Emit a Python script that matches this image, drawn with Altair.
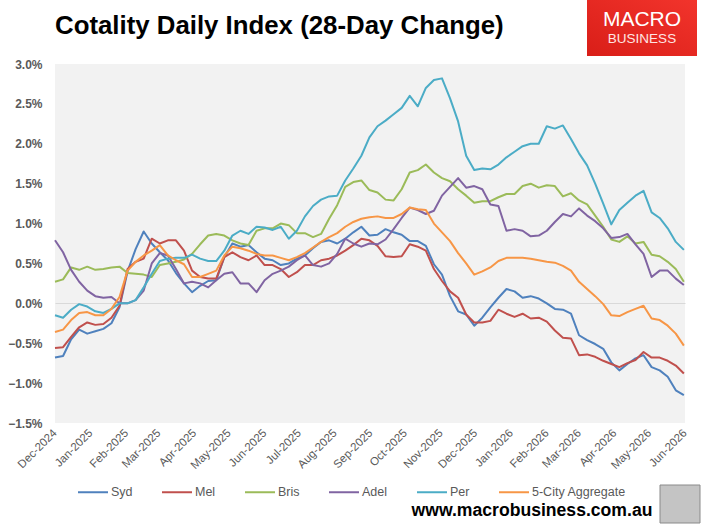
import altair as alt
import pandas as pd

# ---------------- data (28-day change, %), weekly from 1 Dec 2024 ----------------
dates = pd.date_range("2024-12-01", periods=79, freq="7D")

syd = [-0.68, -0.66, -0.45, -0.33, -0.38, -0.35, -0.32, -0.25, -0.05, 0.40,
       0.68, 0.90, 0.75, 0.64, 0.54, 0.38, 0.25, 0.14, 0.22, 0.28,
       0.29, 0.58, 0.75, 0.71, 0.73, 0.64, 0.56, 0.54, 0.48, 0.50,
       0.56, 0.60, 0.69, 0.77, 0.79, 0.75, 0.81, 0.89, 0.96, 0.85,
       0.86, 0.93, 0.89, 0.86, 0.78, 0.78, 0.72, 0.49, 0.36, 0.09,
       -0.10, -0.14, -0.28, -0.18, -0.05, 0.07, 0.18, 0.15, 0.07, 0.09,
       0.06, 0.00, -0.07, -0.08, -0.13, -0.40, -0.46, -0.51, -0.57, -0.74,
       -0.84, -0.76, -0.69, -0.65, -0.80, -0.84, -0.92, -1.09, -1.15]

mel = [-0.56, -0.55, -0.42, -0.30, -0.24, -0.27, -0.26, -0.18, -0.03, 0.43,
       0.52, 0.56, 0.81, 0.75, 0.79, 0.79, 0.66, 0.41, 0.33, 0.31,
       0.31, 0.58, 0.64, 0.58, 0.54, 0.60, 0.48, 0.48, 0.43, 0.33,
       0.39, 0.48, 0.48, 0.54, 0.56, 0.60, 0.66, 0.73, 0.81, 0.79,
       0.72, 0.59, 0.58, 0.59, 0.74, 0.71, 0.66, 0.43, 0.28, 0.15,
       0.07, -0.14, -0.24, -0.24, -0.22, -0.08, -0.13, -0.17, -0.13, -0.19,
       -0.18, -0.23, -0.34, -0.43, -0.44, -0.65, -0.64, -0.67, -0.72, -0.76,
       -0.80, -0.75, -0.71, -0.61, -0.68, -0.68, -0.72, -0.78, -0.88]

bris = [0.27, 0.30, 0.45, 0.42, 0.46, 0.42, 0.43, 0.45, 0.46, 0.38,
        0.37, 0.36, 0.33, 0.48, 0.50, 0.52, 0.55, 0.62, 0.74, 0.85,
        0.87, 0.85, 0.79, 0.75, 0.73, 0.91, 0.94, 0.94, 1.00, 0.98,
        0.88, 0.88, 0.83, 0.87, 1.06, 1.23, 1.46, 1.52, 1.54, 1.42,
        1.39, 1.30, 1.29, 1.43, 1.64, 1.67, 1.74, 1.64, 1.57, 1.53,
        1.43, 1.35, 1.26, 1.28, 1.28, 1.33, 1.37, 1.37, 1.47, 1.50,
        1.45, 1.48, 1.47, 1.34, 1.38, 1.29, 1.24, 1.10, 0.96, 0.80,
        0.77, 0.84, 0.75, 0.77, 0.61, 0.59, 0.52, 0.43, 0.27]

adel = [0.79, 0.64, 0.42, 0.27, 0.16, 0.09, 0.07, 0.08, 0.00, 0.00,
        0.04, 0.16, 0.50, 0.63, 0.60, 0.43, 0.25, 0.27, 0.25, 0.20,
        0.29, 0.37, 0.39, 0.25, 0.25, 0.14, 0.29, 0.37, 0.41, 0.46,
        0.54, 0.60, 0.48, 0.46, 0.50, 0.62, 0.81, 0.75, 0.71, 0.75,
        0.74, 0.80, 0.93, 1.07, 1.20, 1.17, 1.12, 1.16, 1.35, 1.46,
        1.57, 1.45, 1.47, 1.43, 1.24, 1.22, 0.91, 0.93, 0.91, 0.84,
        0.85, 0.91, 1.02, 1.12, 1.09, 1.19, 1.10, 1.03, 0.94, 0.82,
        0.83, 0.87, 0.74, 0.62, 0.33, 0.41, 0.41, 0.31, 0.23]

per = [-0.15, -0.18, -0.08, -0.01, -0.04, -0.10, -0.12, -0.07, 0.00, 0.00,
       0.04, 0.20, 0.37, 0.53, 0.56, 0.57, 0.57, 0.61, 0.56, 0.53,
       0.53, 0.66, 0.85, 0.91, 0.87, 0.96, 0.95, 0.92, 0.96, 0.81,
       0.91, 1.09, 1.22, 1.30, 1.34, 1.35, 1.54, 1.69, 1.85, 2.08,
       2.22, 2.29, 2.37, 2.45, 2.60, 2.47, 2.70, 2.80, 2.82, 2.57,
       2.28, 1.85, 1.67, 1.69, 1.68, 1.74, 1.83, 1.90, 1.97, 2.00,
       2.00, 2.22, 2.19, 2.23, 2.06, 1.88, 1.73, 1.50, 1.25, 0.99,
       1.17, 1.26, 1.35, 1.41, 1.14, 1.07, 0.94, 0.77, 0.67]

agg = [-0.36, -0.33, -0.21, -0.12, -0.11, -0.15, -0.15, -0.07, 0.08, 0.41,
       0.52, 0.60, 0.66, 0.73, 0.60, 0.54, 0.49, 0.33, 0.33, 0.37,
       0.41, 0.60, 0.71, 0.69, 0.66, 0.62, 0.60, 0.60, 0.57, 0.54,
       0.58, 0.63, 0.70, 0.77, 0.83, 0.88, 0.96, 1.02, 1.06, 1.08,
       1.09, 1.07, 1.07, 1.12, 1.20, 1.18, 1.17, 1.00, 0.89, 0.78,
       0.63, 0.50, 0.36, 0.40, 0.45, 0.53, 0.57, 0.57, 0.57, 0.56,
       0.54, 0.52, 0.51, 0.47, 0.41, 0.27, 0.18, 0.09, -0.01, -0.15,
       -0.16, -0.11, -0.07, -0.03, -0.19, -0.21, -0.28, -0.38, -0.53]

series_names = ["Syd", "Mel", "Bris", "Adel", "Per", "5-City Aggregate"]
series_values = [syd, mel, bris, adel, per, agg]
series_colors = ["#4F81BD", "#C0504D", "#9BBB59", "#8064A2", "#4BACC6", "#F79646"]
series_widths = [2, 2, 2, 2, 2, 3.6]

y_ticks = [-0.015, -0.01, -0.005, 0.0, 0.005, 0.01, 0.015, 0.02, 0.025, 0.03]
tick_months = [(2024, 12)] + [(2025, m) for m in range(1, 13)] + [(2026, m) for m in range(1, 7)]

TITLE = "Cotality Daily Index (28-Day Change)"
WEBSITE = "www.macrobusiness.com.au"

# ---------------- build table ----------------
rows = []
for name, vals in zip(series_names, series_values):
    for d, v in zip(dates, vals):
        rows.append({"date": d, "city": name, "value": v / 100.0})
df = pd.DataFrame(rows)

x_ticks = [alt.DateTime(year=y, month=m, date=1) for y, m in tick_months]
x_domain = [alt.DateTime(year=2024, month=12, date=1), alt.DateTime(year=2026, month=6, date=1)]

GRAY = "#595959"

lines = alt.Chart(df).mark_line(strokeJoin="round").encode(
    x=alt.X("date:T",
            scale=alt.Scale(domain=x_domain),
            axis=alt.Axis(values=x_ticks, format="%b-%Y", labelAngle=-45,
                          labelAlign="right", labelBaseline="middle",
                          grid=False, domain=False, ticks=False, labelPadding=8,
                          labelFont="Liberation Sans", labelFontSize=11.5,
                          labelColor=GRAY, title=None, labelOverlap=False)),
    y=alt.Y("value:Q",
            scale=alt.Scale(domain=[-0.015, 0.03], nice=False, zero=False),
            axis=alt.Axis(values=y_ticks, format=".1%", grid=True,
                          gridColor={"condition": {"test": "abs(datum.value) < 1e-9",
                                                   "value": "#d9d9d9"},
                                     "value": "rgba(0,0,0,0)"},
                          gridWidth=1, domain=False,
                          ticks=False, labelPadding=13, labelFont="Liberation Sans",
                          labelFontSize=12, labelFontWeight="bold", labelColor=GRAY,
                          title=None, labelOverlap=False)),
    color=alt.Color("city:N",
                    scale=alt.Scale(domain=series_names, range=series_colors),
                    sort=series_names,
                    legend=alt.Legend(orient="none", legendX=22, legendY=412,
                                      direction="horizontal", title=None,
                                      symbolType="stroke", symbolSize=900,
                                      symbolStrokeWidth=2.5, labelOffset=2,
                                      labelFont="Liberation Sans", labelFontSize=12.5,
                                      labelColor=GRAY, columnPadding=25, padding=0)),
    strokeWidth=alt.StrokeWidth("city:N",
                                scale=alt.Scale(domain=series_names, range=series_widths),
                                legend=None),
)

dummy = pd.DataFrame({"d": [0]})

title = alt.Chart(dummy).mark_text(
    text=TITLE, font="Liberation Sans", fontSize=25.8, fontWeight="bold", color="black",
    align="left", baseline="alphabetic"
).encode(x=alt.value(0), y=alt.value(-30))

logo_box = alt.Chart(dummy).mark_rect(
    fill=alt.Gradient(gradient="linear",
                      stops=[alt.GradientStop(color="#F2342C", offset=0),
                             alt.GradientStop(color="#D91E18", offset=1)],
                      x1=1, x2=0, y1=0, y2=1)
).encode(x=alt.value(532), x2=alt.value(642), y=alt.value(-64), y2=alt.value(-8))

logo_macro = alt.Chart(dummy).mark_text(
    text="MACRO", font="Liberation Sans", fontSize=21, color="white",
    align="center", baseline="middle", fontWeight="normal"
).encode(x=alt.value(587), y=alt.value(-44))

logo_business = alt.Chart(dummy).mark_text(
    text="BUSINESS", font="Liberation Sans", fontSize=13.5, color="#FFE5E3",
    align="center", baseline="middle"
).encode(x=alt.value(587), y=alt.value(-25))

website = alt.Chart(dummy).mark_text(
    text=WEBSITE, font="Liberation Sans", fontSize=17.6,
    fontWeight="bold", color="black", align="center", baseline="middle"
).encode(x=alt.value(477), y=alt.value(447))

wolf = alt.Chart(dummy).mark_rect(fill="#c4c4c4", stroke="#8a8a8a", strokeWidth=1).encode(
    x=alt.value(605), x2=alt.value(645), y=alt.value(421), y2=alt.value(459)
)

chart = alt.layer(lines, title, logo_box, logo_macro, logo_business, website, wolf).properties(
    width=630, height=359,
    padding={"left": 55, "top": 64, "right": 20, "bottom": 102},
    autosize=alt.AutoSizeParams(type="none"),
    background="white",
).configure_view(fill="#F2F2F2", stroke=None)

chart.save("out.html", embed_options={"renderer": "svg", "actions": False})
